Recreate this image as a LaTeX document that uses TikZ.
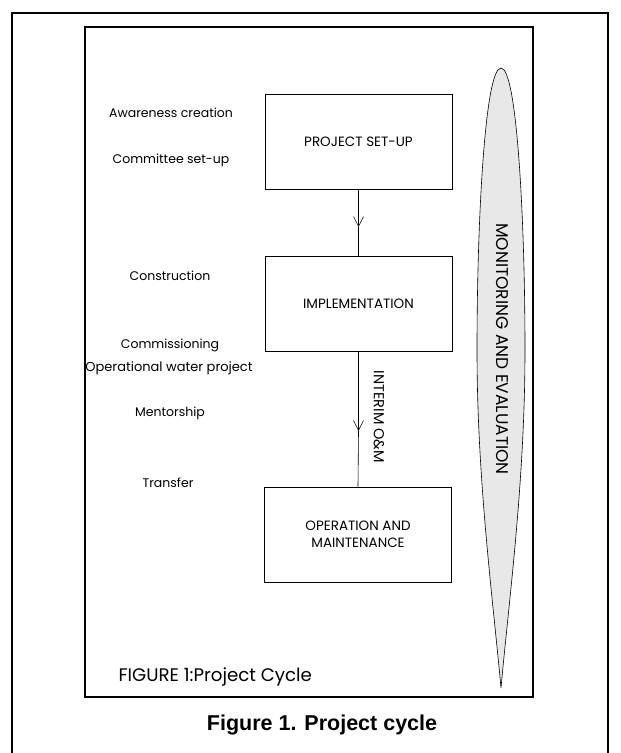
\documentclass[tikz,border=0pt]{standalone}
\usepackage{fontspec}
\setmainfont{Poppins}
\newfontfamily\capfont{Liberation Sans}
\usetikzlibrary{arrows.meta}
\tikzset{
  stage/.style={draw, line width=0.6pt, minimum width=187pt, minimum height=95pt, align=center, font=\fontsize{13.5}{17}\selectfont},
  side/.style={font=\fontsize{12.5}{15}\selectfont, anchor=center},
  flow/.style={line width=0.6pt, -{Straight Barb[length=10pt, width=10pt, line width=0.5pt]}},
  vlabel/.style={rotate=-90, font=\fontsize{14.5}{17}\selectfont},
}
\begin{document}
\begin{tikzpicture}[x=1pt, y=-1pt]
\useasboundingbox (0,0) rectangle (621,753);
% outer frame
\draw[line width=2.2pt] (12,760) -- (12,13) -- (608,13) -- (608,760);
% inner frame
\draw[line width=1.3pt] (85,27) rectangle (533,697);
% spindle
\path[draw, line width=0.6pt, fill=gray!18] (501,68)
  .. controls (517,68) and (525,220) .. (525,350)
  .. controls (525,480) and (509,600) .. (501,688)
  .. controls (493,600) and (477,480) .. (477,350)
  .. controls (477,220) and (485,68) .. (501,68) -- cycle;
\node[vlabel, font=\fontsize{17}{20}\selectfont] (me) at (502,349) {MONITORING AND EVALUATION};
% stages
\node[stage] (setup) at (358.5,141.5) {PROJECT SET-UP};
\node[stage] (impl) at (358.5,304) {IMPLEMENTATION};
\node[stage] (om) at (358,534.5) {OPERATION AND\\MAINTENANCE};
\coordinate (a1) at (358.5,227);
\coordinate (a2) at (358.5,431);
\draw[flow] (setup.south) -- (a1);
\draw[line width=0.6pt] (a1) -- (impl.north);
\draw[flow] (impl.south) -- (a2);
\draw[line width=0.6pt] (a2) -- (om.north);
\node[vlabel] (interim) at (379,417) {INTERIM O\&M};
% side labels
\node[side] (l1) at (171,113) {Awareness creation};
\node[side] (l2) at (171,160) {Committee set-up};
\node[side] (l3) at (170,276) {Construction};
\node[side] (l4) at (170,345) {Commissioning};
\node[side, font=\fontsize{13}{15}\selectfont] (l5) at (169,368) {Operational water project};
\node[side] (l6) at (170,413) {Mentorship};
\node[side] (l7) at (168,483) {Transfer};
\node[anchor=west, font=\fontsize{18.2}{21}\selectfont] (fig) at (115,677) {FIGURE 1:Project Cycle};
\node[anchor=base, font=\capfont\bfseries\fontsize{21.5}{24}\selectfont] (cap) at (322,730) {Figure 1. Project cycle};
\end{tikzpicture}
\end{document}
